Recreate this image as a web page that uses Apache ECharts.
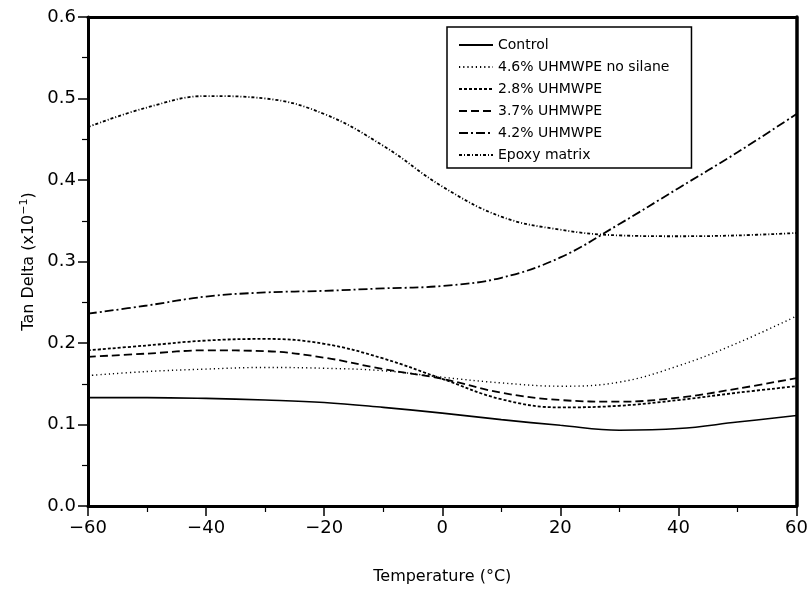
<!DOCTYPE html>
<html>
<head>
<meta charset="utf-8">
<title>Tan Delta vs Temperature</title>
<script src="https://cdn.jsdelivr.net/npm/echarts@6/dist/echarts.min.js"></script>
<style>
  html, body { margin: 0; padding: 0; background: #fff; }
  #main { width: 811px; height: 590px; }
</style>
</head>
<body>
<div id="main"></div>
<script>
// temperatures (°C)
const temps = [-60, -50, -40, -30, -20, -10, 0, 10, 20, 30, 40, 50, 60]

// tan delta readings per sample
const control = [0.133, 0.133, 0.132, 0.130, 0.127, 0.121, 0.114, 0.106, 0.099, 0.093, 0.095, 0.103, 0.111]
const noSilane46 = [0.160, 0.165, 0.168, 0.170, 0.169, 0.166, 0.158, 0.151, 0.147, 0.152, 0.172, 0.200, 0.233]
const uhmwpe28 = [0.191, 0.197, 0.203, 0.205, 0.199, 0.181, 0.156, 0.131, 0.121, 0.123, 0.130, 0.139, 0.147]
const uhmwpe37 = [0.183, 0.187, 0.191, 0.190, 0.182, 0.168, 0.156, 0.139, 0.130, 0.128, 0.133, 0.144, 0.157]
const uhmwpe42 = [0.236, 0.246, 0.257, 0.262, 0.264, 0.267, 0.270, 0.280, 0.305, 0.346, 0.390, 0.434, 0.481]
const epoxy = [0.465, 0.489, 0.503, 0.500, 0.481, 0.442, 0.392, 0.355, 0.339, 0.332, 0.331, 0.332, 0.335]

const xTicks = [-60, -40, -20, 0, 20, 40, 60]
const yTicks = [0.0, 0.1, 0.2, 0.3, 0.4, 0.5, 0.6]

const chartDom = document.getElementById('main')
const myChart = echarts.init(chartDom)

const font = 'DejaVu Sans'
const pair = (vals) => temps.map((t, i) => [t, vals[i]])

const lineSeries = (name, vals, type, width) => ({
  name: name,
  type: 'line',
  data: pair(vals),
  smooth: 0.4,
  symbol: 'none',
  silent: true,
  lineStyle: { color: '#000', width: width, type: type },
  itemStyle: { color: '#000' }
})

const option = {
  backgroundColor: '#fff',
  animation: false,
  textStyle: { fontFamily: font },
  grid: { left: 88, right: 13, top: 17, bottom: 81 },
  legend: {
    orient: 'vertical',
    left: 447,
    top: 27,
    padding: [11, 22, 6, 11],
    itemGap: 8,
    itemWidth: 34,
    itemHeight: 14,
    borderColor: '#000',
    borderWidth: 1.5,
    itemStyle: { opacity: 0 },
    textStyle: { fontFamily: font, fontSize: 14, color: '#000' },
    data: ['Control', '4.6% UHMWPE no silane', '2.8% UHMWPE', '3.7% UHMWPE', '4.2% UHMWPE', 'Epoxy matrix']
  },
  xAxis: [
    {
      type: 'value',
      min: -60,
      max: 60,
      interval: 20,
      name: 'Temperature (°C)',
      nameLocation: 'middle',
      nameGap: 63,
      nameTextStyle: { fontFamily: font, fontSize: 16, color: '#000' },
      axisLine: { onZero: false, lineStyle: { color: '#000', width: 3 } },
      axisTick: { inside: false, length: 10, lineStyle: { color: '#000', width: 1.5 } },
      minorTick: { show: true, splitNumber: 2, length: 6, lineStyle: { color: '#000', width: 1.2 } },
      splitLine: { show: false },
      axisLabel: {
        margin: 13,
        fontSize: 18,
        color: '#000',
        formatter: (v) => (xTicks.includes(v) ? String(v).replace('-', '\u2212') : '')
      }
    },
    {
      type: 'value',
      position: 'top',
      min: -60,
      max: 60,
      interval: 20,
      axisLine: { onZero: false, lineStyle: { color: '#000', width: 3 } },
      axisTick: { show: false },
      axisLabel: { show: false },
      splitLine: { show: false }
    }
  ],
  yAxis: [
    {
      type: 'value',
      min: 0,
      max: 0.6,
      interval: 0.1,
      name: 'Tan Delta (x10{sup|\u22121})',
      nameLocation: 'middle',
      nameGap: 50,
      nameRotate: 90,
      nameTextStyle: {
        fontFamily: font,
        fontSize: 16,
        color: '#000',
        rich: { sup: { fontFamily: font, fontSize: 11, color: '#000', verticalAlign: 'top', padding: [0, 0, 8, 0] } }
      },
      axisLine: { onZero: false, lineStyle: { color: '#000', width: 3 } },
      axisTick: { inside: false, length: 10, lineStyle: { color: '#000', width: 1.5 } },
      minorTick: { show: true, splitNumber: 2, length: 6, lineStyle: { color: '#000', width: 1.2 } },
      splitLine: { show: false },
      axisLabel: {
        margin: 12,
        fontSize: 18,
        color: '#000',
        formatter: (v) => {
          const hit = yTicks.find((t) => Math.abs(t - v) < 1e-9)
          return hit === undefined ? '' : hit.toFixed(1)
        }
      }
    },
    {
      type: 'value',
      position: 'right',
      min: 0,
      max: 0.6,
      interval: 0.1,
      axisLine: { onZero: false, lineStyle: { color: '#000', width: 3.5 } },
      axisTick: { show: false },
      axisLabel: { show: false },
      splitLine: { show: false }
    }
  ],
  series: [
    lineSeries('Control', control, 'solid', 1.6),
    lineSeries('4.6% UHMWPE no silane', noSilane46, [1.2, 3], 1.4),
    lineSeries('2.8% UHMWPE', uhmwpe28, [3, 2], 1.8),
    lineSeries('3.7% UHMWPE', uhmwpe37, [8, 4], 1.8),
    lineSeries('4.2% UHMWPE', uhmwpe42, [9, 3, 2, 3], 1.8),
    lineSeries('Epoxy matrix', epoxy, [3, 2, 1, 2], 1.8)
  ]
}

option && myChart.setOption(option)
</script>
</body>
</html>
